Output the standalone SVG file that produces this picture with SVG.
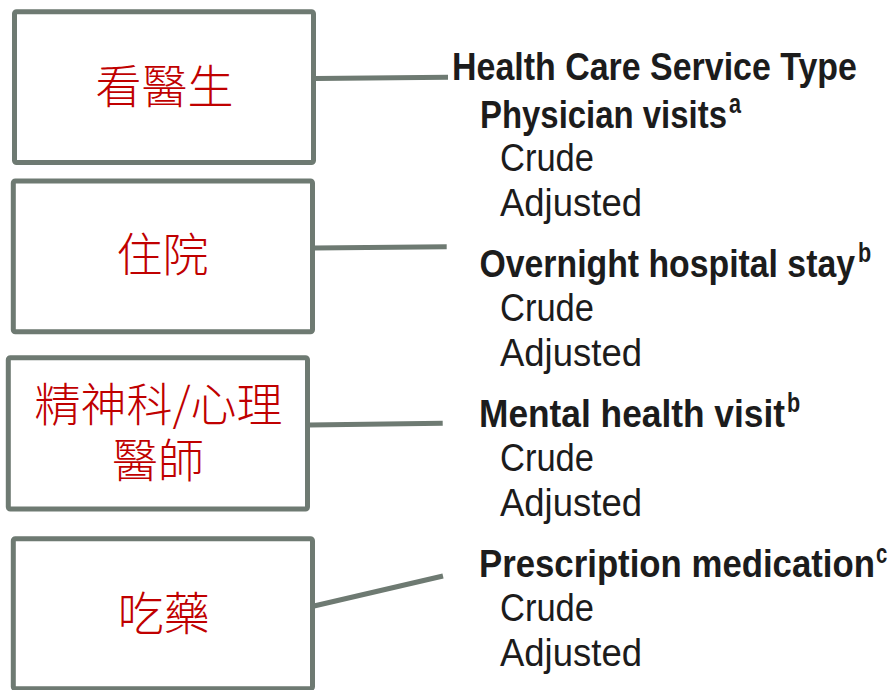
<svg xmlns="http://www.w3.org/2000/svg" width="888" height="690" viewBox="0 0 888 690">
  <style>
    .box { fill: #ffffff; stroke: #6e7a72; stroke-width: 5; }
    .link { stroke: #6e7a72; stroke-width: 5; stroke-linecap: butt; fill: none; }
    .zh { font-family: "Noto Sans CJK TC", "Noto Sans CJK SC", sans-serif; font-size: 46px; font-weight: 300; fill: #c00000; text-anchor: middle; }
    .hd { font-family: "Liberation Sans", "DejaVu Sans", sans-serif; font-size: 38px; font-weight: bold; fill: #1c1c1c; }
    .row { font-family: "Liberation Sans", "DejaVu Sans", sans-serif; font-size: 38px; fill: #1c1c1c; }
    .sup { font-family: "Liberation Sans", "DejaVu Sans", sans-serif; font-size: 27px; font-weight: bold; fill: #1c1c1c; }
  </style>
  <rect width="888" height="690" fill="#ffffff"/>

  <!-- connectors from each box to its table section -->
  <g id="connectors">
    <line class="link" x1="316" y1="78.5" x2="448" y2="77.3"/>
    <line class="link" x1="314" y1="248" x2="446.7" y2="246.7"/>
    <line class="link" x1="309" y1="425" x2="442.7" y2="423.3"/>
    <line class="link" x1="314" y1="606" x2="443" y2="576"/>
  </g>

  <!-- category boxes -->
  <g id="node-physician">
    <rect class="box" x="14.5" y="11.7" width="299" height="150.8" rx="2"/>
    <text class="zh" x="164.5" y="103">看醫生</text>
  </g>
  <g id="node-hospital">
    <rect class="box" x="13.3" y="181" width="299.2" height="150.8" rx="2"/>
    <text class="zh" x="162.5" y="271">住院</text>
  </g>
  <g id="node-mental">
    <rect class="box" x="8.3" y="357.8" width="299.2" height="151.2" rx="2"/>
    <text class="zh" x="158.5" y="421">精神科/心理</text>
    <text class="zh" x="158" y="477">醫師</text>
  </g>
  <g id="node-medication">
    <rect class="box" x="13.3" y="538.8" width="299.2" height="150" rx="2"/>
    <text class="zh" x="163.7" y="630">吃藥</text>
  </g>

  <!-- service type listing; headings are set narrow to fit the column -->
  <g id="service-types">
    <g transform="translate(452 79.5) scale(0.89 1)">
      <text class="hd" x="0" y="0" textLength="455" lengthAdjust="spacingAndGlyphs">Health Care Service Type</text>
    </g>

    <g transform="translate(480 127.5) scale(0.89 1)">
      <text class="hd" x="0" y="0" textLength="277.5" lengthAdjust="spacingAndGlyphs">Physician visits</text>
    </g>
    <g transform="translate(729 113) scale(0.8 1)">
      <text class="sup" x="0" y="0">a</text>
    </g>
    <g transform="translate(500 171) scale(0.92 1)">
      <text class="row" x="0" y="0" textLength="102.2" lengthAdjust="spacingAndGlyphs">Crude</text>
    </g>
    <g transform="translate(500 215.5) scale(0.96 1)">
      <text class="row" x="0" y="0" textLength="147.9" lengthAdjust="spacingAndGlyphs">Adjusted</text>
    </g>

    <g transform="translate(479.5 277) scale(0.89 1)">
      <text class="hd" x="0" y="0" textLength="421.9" lengthAdjust="spacingAndGlyphs">Overnight hospital stay</text>
    </g>
    <g transform="translate(858 262) scale(0.8 1)">
      <text class="sup" x="0" y="0">b</text>
    </g>
    <g transform="translate(500 321) scale(0.92 1)">
      <text class="row" x="0" y="0" textLength="102.2" lengthAdjust="spacingAndGlyphs">Crude</text>
    </g>
    <g transform="translate(500 366) scale(0.96 1)">
      <text class="row" x="0" y="0" textLength="147.9" lengthAdjust="spacingAndGlyphs">Adjusted</text>
    </g>

    <g transform="translate(479 427) scale(0.89 1)">
      <text class="hd" x="0" y="0" textLength="343.8" lengthAdjust="spacingAndGlyphs">Mental health visit</text>
    </g>
    <g transform="translate(787 412) scale(0.8 1)">
      <text class="sup" x="0" y="0">b</text>
    </g>
    <g transform="translate(500 471) scale(0.92 1)">
      <text class="row" x="0" y="0" textLength="102.2" lengthAdjust="spacingAndGlyphs">Crude</text>
    </g>
    <g transform="translate(500 516) scale(0.96 1)">
      <text class="row" x="0" y="0" textLength="147.9" lengthAdjust="spacingAndGlyphs">Adjusted</text>
    </g>

    <g transform="translate(479 577) scale(0.89 1)">
      <text class="hd" x="0" y="0" textLength="444.9" lengthAdjust="spacingAndGlyphs">Prescription medication</text>
    </g>
    <g transform="translate(876 563) scale(0.75 1)">
      <text class="sup" x="0" y="0">c</text>
    </g>
    <g transform="translate(500 621) scale(0.92 1)">
      <text class="row" x="0" y="0" textLength="102.2" lengthAdjust="spacingAndGlyphs">Crude</text>
    </g>
    <g transform="translate(500 666) scale(0.96 1)">
      <text class="row" x="0" y="0" textLength="147.9" lengthAdjust="spacingAndGlyphs">Adjusted</text>
    </g>
  </g>
</svg>
